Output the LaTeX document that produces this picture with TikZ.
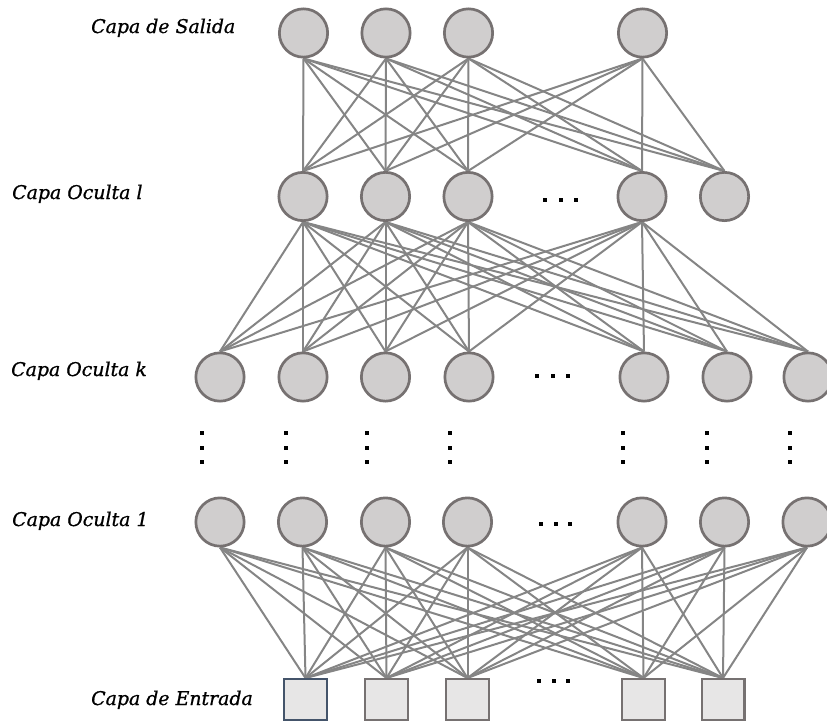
\documentclass[tikz,border=0pt]{standalone}
\usepackage{fontspec}
\setmainfont{DejaVu Serif}[ItalicFeatures={FakeBold=0.9}]
\usetikzlibrary{backgrounds}
\definecolor{nodefill}{HTML}{D0CECE}
\definecolor{nodeline}{HTML}{767171}
\definecolor{boxfill}{HTML}{E7E6E6}
\definecolor{firstbox}{HTML}{44546A}
\definecolor{linkgray}{HTML}{858585}
\tikzset{
  neuron/.style={circle, draw=nodeline, fill=nodefill, line width=2.7pt,
    minimum size=48.3pt, inner sep=0pt},
  inputbox/.style={rectangle, draw=nodeline, fill=boxfill, line width=2.3pt,
    minimum width=42.7pt, minimum height=40.7pt, inner sep=0pt},
  link/.style={draw=linkgray, line width=2pt},
  layerlabel/.style={anchor=base west, inner sep=0pt,
    font=\fontsize{18.9}{22}\selectfont\itshape},
}
% small square dot used for the ellipses
\newcommand{\sqdot}[2]{\fill[black] (#1,#2) ++(-1.9,-1.9) rectangle ++(3.8,3.8);}
\begin{document}
\begin{tikzpicture}[x=1pt,y=-1pt]
\useasboundingbox (0,0) rectangle (827,721);

% layers of neurons
\foreach \x [count=\i] in {303.5,386,468.5,642.5}
  \node[neuron] (o\i) at (\x,33) {};
\foreach \x [count=\i] in {303,385.5,468,642,724.5}
  \node[neuron] (l\i) at (\x,196.5) {};
\foreach \x [count=\i] in {220,303,385.5,469,644,727,808}
  \node[neuron] (k\i) at (\x,377) {};
\foreach \x [count=\i] in {220,302.5,385.5,467.5,642,724.5,807}
  \node[neuron] (h\i) at (\x,522) {};
\foreach \x [count=\i] in {386.5,467.5,643.5,723}
  \node[inputbox] (in\the\numexpr\i+1\relax) at (\x,699.5) {};
\node[inputbox, draw=firstbox] (in1) at (305.5,699.5) {};

% connections
\begin{scope}[on background layer]
  \foreach \i in {1,...,4}
    \foreach \j in {1,...,5}
      \draw[link] (o\i.south) -- (l\j.north);
  \foreach \i in {1,...,4}
    \foreach \j in {1,...,7}
      \draw[link] (l\i.south) -- (k\j.north);
  \foreach \i in {1,...,7}
    \foreach \j in {1,...,5}
      \draw[link] (h\i.south) -- (in\j.north);
\end{scope}

% horizontal ellipses
\foreach \x in {545,561,576} {\sqdot{\x}{200}}
\foreach \x in {537,553,568} {\sqdot{\x}{376}}
\foreach \x in {541,556,570} {\sqdot{\x}{524}}
\foreach \x in {539,554,568} {\sqdot{\x}{681}}

% vertical ellipses between the hidden layers
\foreach \x in {202,286,367,450,623,707,790}
  \foreach \y in {433,448,462} {\sqdot{\x}{\y}}

% layer labels
\node[layerlabel] (lblout) at (91,33) {Capa de Salida};
\node[layerlabel] (lbll) at (12,199) {Capa Oculta l};
\node[layerlabel] (lblk) at (11,376) {Capa Oculta k};
\node[layerlabel] (lbl1) at (12,526) {Capa Oculta 1};
\node[layerlabel] (lblin) at (91,705) {Capa de Entrada};
\end{tikzpicture}
\end{document}
